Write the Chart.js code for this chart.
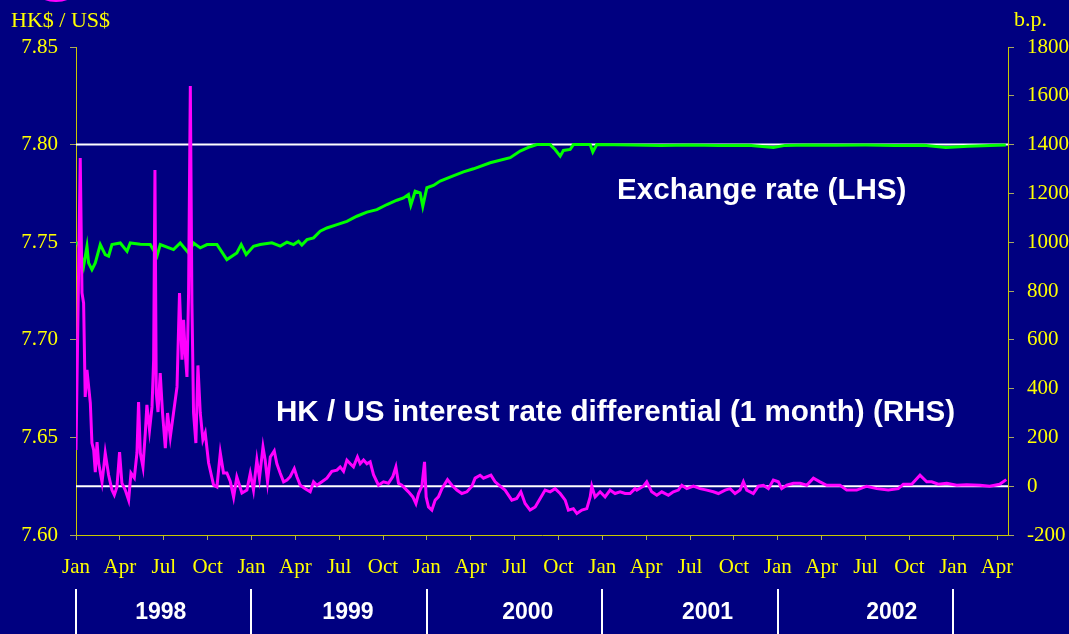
<!DOCTYPE html>
<html>
<head>
<meta charset="utf-8">
<script src="https://cdn.jsdelivr.net/npm/chart.js@4.4.0/dist/chart.umd.min.js"></script>
<style>
  html, body { margin: 0; padding: 0; background: #000080; }
  #wrap { width: 1069px; height: 634px; }
</style>
</head>
<body>
<div id="wrap"><canvas id="hkChart" width="1069" height="634"></canvas></div>
<script>
// x values are months since Jan 1998
const monthNames = ['Jan', 'Apr', 'Jul', 'Oct'];
const monthTicks = [0, 3, 6, 9, 12, 15, 18, 21, 24, 27, 30, 33, 36, 39, 42, 45, 48, 51, 54, 57, 60, 63];
const rateTicks = [7.60, 7.65, 7.70, 7.75, 7.80, 7.85];
const bpTicks = [-200, 0, 200, 400, 600, 800, 1000, 1200, 1400, 1600, 1800];
const years = ['1998', '1999', '2000', '2001', '2002'];
const yearStarts = [0, 12, 24, 36, 48, 60];
const yearLabelMonths = [5.8, 18.6, 30.9, 43.2, 55.8];

const rateMonths = [0, 0.18, 0.52, 0.75, 0.86, 1.09, 1.32, 1.66, 2.0, 2.23, 2.46, 3.03, 3.49, 3.71, 4.4, 5.08, 5.54, 5.76, 6.67, 7.13,
  7.7, 8.04, 8.5, 8.96, 9.64, 10.32, 11.0, 11.3, 11.64, 12.14, 12.6, 13.4, 13.97, 14.43, 14.88, 15.22, 15.45, 15.8, 16.25, 16.7,
  17.16, 17.85, 18.53, 19.21, 19.9, 20.58, 21.27, 21.95, 22.4, 22.74, 22.9, 23.2, 23.54, 23.72, 24.0, 24.45, 24.91, 25.8, 26.5, 27.19,
  28.33, 29.7, 30.38, 31.06, 31.52, 32.43, 32.77, 33.12, 33.34, 33.8, 34.02, 35.17, 35.35, 35.62, 38, 40, 42, 44, 46, 47.7,
  48.5, 50, 52, 54, 56, 58, 59.5, 61, 62.5, 63.6];
const rateValues = [7.7500, 7.7488, 7.7377, 7.7479, 7.7394, 7.7359, 7.7394, 7.7488, 7.7436, 7.7428, 7.7488, 7.7496, 7.7453, 7.7496, 7.7490, 7.7488, 7.7428, 7.7488, 7.7462, 7.7496,
  7.7445, 7.7496, 7.7471, 7.7488, 7.7488, 7.7411, 7.7445, 7.7488, 7.7437, 7.7479, 7.7488, 7.7497, 7.7480, 7.7500, 7.7488, 7.7505, 7.7485, 7.7513, 7.7522, 7.7556,
  7.7573, 7.7590, 7.7607, 7.7633, 7.7654, 7.7667, 7.7693, 7.7715, 7.7727, 7.7744, 7.7690, 7.7761, 7.7753, 7.7684, 7.7779, 7.7791, 7.7813, 7.7840, 7.7860, 7.7876,
  7.7907, 7.7933, 7.7967, 7.7989, 7.8000, 7.8000, 7.7975, 7.7941, 7.7970, 7.7975, 7.8000, 7.8000, 7.7962, 7.8000, 7.7998, 7.7996, 7.7998, 7.7995, 7.7997, 7.7985,
  7.7996, 7.7998, 7.7997, 7.7998, 7.7996, 7.7997, 7.7985, 7.7992, 7.7996, 7.7998];

const diffMonths = [0, 0.29, 0.41, 0.52, 0.63, 0.75, 0.98, 1.09, 1.21, 1.32, 1.44, 1.55, 1.78, 1.89, 2.0, 2.23, 2.46, 2.62, 2.8, 2.98,
  3.14, 3.37, 3.6, 3.76, 3.99, 4.17, 4.28, 4.4, 4.58, 4.74, 4.85, 5.03, 5.2, 5.31, 5.4, 5.49, 5.61, 5.76, 5.92, 6.11,
  6.26, 6.45, 6.67, 6.91, 7.08, 7.25, 7.36, 7.47, 7.59, 7.7, 7.82, 7.93, 8.04, 8.2, 8.34, 8.5, 8.68, 8.84, 9.07, 9.41,
  9.64, 9.87, 10.09, 10.32, 10.55, 10.78, 11.0, 11.35, 11.69, 11.92, 12.14, 12.37, 12.55, 12.79, 12.94, 13.1, 13.29, 13.56, 13.74, 13.97,
  14.2, 14.43, 14.65, 14.93, 15.11, 15.34, 15.68, 16.02, 16.25, 16.48, 16.82, 17.16, 17.5, 17.85, 18.07, 18.3, 18.53, 18.76, 18.98, 19.25,
  19.44, 19.67, 19.9, 20.12, 20.35, 20.69, 21.03, 21.37, 21.67, 21.88, 22.06, 22.29, 22.52, 22.74, 23.04, 23.25, 23.43, 23.66, 23.84, 23.95,
  24.11, 24.34, 24.57, 24.79, 25.03, 25.41, 25.71, 26.05, 26.39, 26.74, 27.08, 27.3, 27.64, 27.87, 28.38, 28.67, 29.01, 29.35, 29.81, 30.15,
  30.43, 30.72, 31.06, 31.41, 31.75, 32.09, 32.43, 32.77, 33.12, 33.46, 33.68, 34.02, 34.26, 34.6, 34.94, 35.17, 35.28, 35.51, 35.85, 36.19,
  36.53, 36.87, 37.22, 37.56, 37.9, 38.24, 38.36, 38.81, 39.04, 39.38, 39.73, 40.07, 40.52, 40.86, 41.2, 41.44, 41.78, 42.23, 42.69, 43.15,
  43.6, 43.94, 44.4, 44.74, 45.08, 45.42, 45.65, 45.88, 46.33, 46.67, 47.02, 47.36, 47.7, 48.04, 48.27, 48.62, 49.07, 49.53, 49.98, 50.44,
  50.89, 51.35, 51.58, 52.26, 52.72, 53.4, 54.09, 54.77, 55.56, 56.25, 56.59, 57.16, 57.73, 58.19, 58.53, 58.98, 59.56, 60.24, 60.92, 61.83,
  62.5, 63.18, 63.63];
const diffValues = [148, 1345, 792, 750, 366, 477, 341, 177, 148, 58, 181, 95, 17, 74, 136, 46, -16, -36, -3, 140,
  13, -16, -57, 54, 34, 136, 345, 136, 79, 218, 333, 230, 325, 518, 1296, 382, 304, 464, 300, 156,
  300, 202, 300, 407, 792, 518, 682, 546, 448, 792, 1640, 750, 300, 177, 495, 300, 190, 218, 95, 5,
  -3, 136, 54, 54, 21, -45, 38, -28, -16, 53, -16, 107, 33, 161, 107, 18, 120, 145, 92, 53,
  18, 25, 39, 72, 39, 4, -10, -23, 18, 4, 18, 33, 61, 66, 79, 61, 107, 92, 79, 120,
  92, 107, 92, 100, 47, 4, 18, 12, 39, 79, 12, 4, -10, -23, -44, -71, -30, 0, 100, -44,
  -85, -98, -57, -44, -10, 27, 4, -16, -30, -23, 0, 33, 45, 33, 45, 18, 0, -16, -57, -50,
  -23, -71, -98, -85, -50, -16, -23, -10, -30, -57, -98, -92, -112, -98, -92, -44, 0, -44, -23, -44,
  -16, -30, -23, -30, -30, -10, -16, 0, 18, -23, -37, -23, -37, -23, -16, 4, -10, 0, -10, -16,
  -23, -30, -16, -10, -30, -16, 18, -16, -30, 0, 4, -10, 25, 18, -10, 4, 12, 12, 4, 33,
  18, 4, 4, 4, -16, -16, 0, -10, -16, -10, 8, 8, 45, 18, 18, 8, 12, 4, 6, 4,
  0, 8, 27];

const NAVY = '#000080';
const YELLOW = '#ffff00';
const AXIS_COLOR = '#c8c800';
const TICK_COLOR = '#a8a860';
const SERIF = '"Liberation Serif", "Times New Roman", serif';
const SANS = '"Liberation Sans", Arial, sans-serif';

let toPoints = (xs, ys) => xs.map((x, i) => ({ x: x, y: ys[i] }));

const decor = {
  id: 'decor',
  beforeDraw(chart) {
    const ctx = chart.ctx;
    ctx.save();
    ctx.fillStyle = NAVY;
    ctx.fillRect(0, 0, chart.width, chart.height);
    // bit of a logo cut off at the top
    ctx.fillStyle = '#ff00ff';
    ctx.beginPath();
    ctx.ellipse(56, -6, 17, 8, 0, 0, Math.PI * 2);
    ctx.fill();
    ctx.restore();
  },
  beforeDatasetsDraw(chart) {
    const { ctx, chartArea, scales } = chart;
    ctx.save();
    ctx.strokeStyle = '#ffffff';
    ctx.lineWidth = 2;
    [scales.y.getPixelForValue(7.80), scales.y1.getPixelForValue(0)].forEach(py => {
      ctx.beginPath();
      ctx.moveTo(chartArea.left, py);
      ctx.lineTo(chartArea.right, py);
      ctx.stroke();
    });
    ctx.restore();
  },
  afterDraw(chart) {
    const { ctx, scales } = chart;
    ctx.save();
    // axis titles
    ctx.fillStyle = YELLOW;
    ctx.font = '22px ' + SERIF;
    ctx.textBaseline = 'alphabetic';
    ctx.textAlign = 'left';
    ctx.fillText('HK$ / US$', 11, 27);
    ctx.fillText('b.p.', 1014, 26);

    // series labels
    ctx.fillStyle = '#ffffff';
    ctx.font = 'bold 29.6px ' + SANS;
    ctx.textBaseline = 'middle';
    ctx.fillText('Exchange rate (LHS)', 617, 191);
    ctx.fillText('HK / US interest rate differential (1 month) (RHS)', 276, 413);

    // year band under the axis
    ctx.strokeStyle = '#ffffff';
    ctx.lineWidth = 2;
    yearStarts.forEach(m => {
      const px = Math.round(scales.x.getPixelForValue(m));
      ctx.beginPath();
      ctx.moveTo(px, 589);
      ctx.lineTo(px, 634);
      ctx.stroke();
    });
    ctx.font = 'bold 23px ' + SANS;
    ctx.textAlign = 'center';
    years.forEach((yr, i) => {
      ctx.fillText(yr, scales.x.getPixelForValue(yearLabelMonths[i]), 613);
    });
    ctx.restore();
  }
};

const config = {
  type: 'line',
  data: {
    datasets: [
      {
        label: 'HK / US interest rate differential (1 month) (RHS)',
        data: toPoints(diffMonths, diffValues),
        yAxisID: 'y1',
        borderColor: '#ff00ff',
        borderWidth: 3,
        pointRadius: 0,
        tension: 0
      },
      {
        label: 'Exchange rate (LHS)',
        data: toPoints(rateMonths, rateValues),
        yAxisID: 'y',
        borderColor: '#00ff00',
        borderWidth: 3,
        pointRadius: 0,
        tension: 0
      }
    ]
  },
  options: {
    responsive: false,
    animation: false,
    devicePixelRatio: 1,
    layout: { padding: { top: 47, left: 0, right: 0, bottom: 0 } },
    plugins: {
      legend: { display: false },
      tooltip: { enabled: false }
    },
    scales: {
      x: {
        type: 'linear',
        min: 0,
        max: 63.75,
        afterBuildTicks: scale => { scale.ticks = monthTicks.map(v => ({ value: v })); },
        afterFit: scale => { scale.height = 99; },
        ticks: {
          autoSkip: false,
          maxRotation: 0,
          color: YELLOW,
          font: { family: SERIF, size: 21 },
          padding: 15,
          callback: v => monthNames[Math.round(v / 3) % 4]
        },
        grid: { drawOnChartArea: false, drawTicks: true, tickLength: 5, color: TICK_COLOR },
        border: { color: AXIS_COLOR, width: 1 }
      },
      y: {
        position: 'left',
        min: 7.60,
        max: 7.85,
        afterBuildTicks: scale => { scale.ticks = rateTicks.map(v => ({ value: v })); },
        afterFit: scale => { scale.width = 76; },
        ticks: {
          color: YELLOW,
          font: { family: SERIF, size: 21 },
          padding: 12,
          callback: v => Number(v).toFixed(2)
        },
        grid: { drawOnChartArea: false, drawTicks: true, tickLength: 6, color: TICK_COLOR },
        border: { color: AXIS_COLOR, width: 1 }
      },
      y1: {
        position: 'right',
        min: -200,
        max: 1800,
        afterBuildTicks: scale => { scale.ticks = bpTicks.map(v => ({ value: v })); },
        afterFit: scale => { scale.width = 61; },
        ticks: {
          color: YELLOW,
          font: { family: SERIF, size: 21 },
          padding: 13,
          callback: v => String(v)
        },
        grid: { drawOnChartArea: false, drawTicks: true, tickLength: 6, color: TICK_COLOR },
        border: { color: AXIS_COLOR, width: 1 }
      }
    }
  },
  plugins: [decor]
};

const myChart = new Chart(document.getElementById('hkChart'), config);
</script>
</body>
</html>
